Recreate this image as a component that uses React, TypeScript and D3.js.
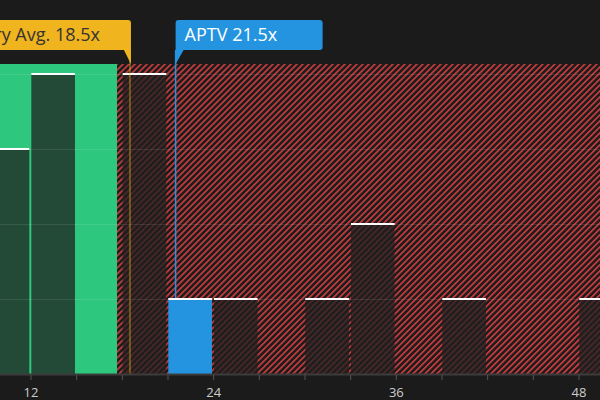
import React from "react";
import * as d3 from "d3";

// P/E histogram, peers binned every 3x
const binStarts = [9, 12, 18, 21, 24, 30, 33, 39, 48];
const binCounts = [3, 4, 4, 1, 1, 1, 2, 1, 1];
const binSize = 3;

const companyLabel = "APTV";
const companyPE = 21.5;
const industryPE = 18.5;
const fairUpper = 17.65;

const majorTicks = [12, 24, 36, 48];
const minorTicks = [9, 12, 15, 18, 21, 24, 27, 30, 33, 36, 39, 42, 45, 48];
const gridValues = [1, 2, 3, 4];

const width = 600;
const height = 400;

const BG = "#1b1b1b";
const GREEN = "#2ec77e";
const RED = "#c23b3d";
const BLUE = "#2494e0";
const YELLOW = "#f0b41e";

export default function App() {
  const x = d3.scaleLinear().domain([9.963, 49.38]).range([0, width]);
  const y = d3.scaleLinear().domain([0, 4.133]).range([374, 64]);
  const [xMin, xMax] = x.domain();
  const top = y(y.domain()[1]);
  const base = y(0);

  const bins = binStarts.map((s, i) => ({ x0: s, x1: s + binSize, n: binCounts[i] }));

  const avgX = x(industryPE);
  const coX = x(companyPE);
  const fmt = (v: number) => `${v.toFixed(1)}x`;

  return (
    <svg
      width={width}
      height={height}
      style={{ position: "absolute", left: 0, top: 0, background: BG }}
      fontFamily="'Open Sans', 'Noto Sans', sans-serif"
    >
      <defs>
        <pattern
          id="hatch"
          width={4.24}
          height={4.24}
          patternUnits="userSpaceOnUse"
          patternTransform="rotate(45)"
        >
          <rect width={4.24} height={4.24} fill={BG} />
          <rect width={1.8} height={4.24} fill={RED} />
        </pattern>
      </defs>
      <rect width={width} height={height} fill={BG} />

      {/* valuation zones */}
      <rect x={x(xMin)} y={top} width={x(fairUpper) - x(xMin)} height={base - top} fill={GREEN} />
      <rect x={x(fairUpper)} y={top} width={x(xMax) - x(fairUpper)} height={base - top} fill="url(#hatch)" />

      {/* bars */}
      {bins.map((b, i) => {
        const isCo = companyPE >= b.x0 && companyPE < b.x1;
        return (
          <rect
            key={i}
            x={x(b.x0) + 0.3}
            y={y(b.n)}
            width={x(b.x1) - x(b.x0) - 2}
            height={base - y(b.n)}
            fill={isCo ? BLUE : "rgb(32,32,32)"}
            fillOpacity={isCo ? 1 : 0.75}
          />
        );
      })}

      {/* grid */}
      {gridValues.map((g) => (
        <line key={g} x1={0} x2={width} y1={y(g) + 0.5} y2={y(g) + 0.5} stroke="#fff" strokeOpacity={0.1} />
      ))}

      {/* bar caps */}
      {bins.map((b, i) => (
        <rect
          key={i}
          x={x(b.x0) + 0.3}
          y={y(b.n) - 1}
          width={x(b.x1) - x(b.x0) - 2}
          height={2}
          fill="#fff"
        />
      ))}

      {/* reference lines */}
      <line x1={avgX} x2={avgX} y1={50} y2={base} stroke={YELLOW} strokeOpacity={0.38} strokeWidth={2} />
      <line x1={coX} x2={coX} y1={50} y2={y(1) - 1} stroke={BLUE} strokeWidth={1.5} />

      {/* industry label */}
      <path
        d={`M${avgX - 215},20 H${avgX - 2} Q${avgX + 1},20 ${avgX + 1},23 V${top} L${avgX - 6},50 H${avgX - 215} Z`}
        fill={YELLOW}
      />
      <text x={avgX - 30} y={41} textAnchor="end" fontSize={18} fill="#333">
        {`Industry Avg. ${fmt(industryPE)}`}
      </text>

      {/* company label */}
      <path
        d={`M${coX},${top} V23 Q${coX},20 ${coX + 3},20 H${coX + 144} Q${coX + 147},20 ${coX + 147},23 V47 Q${coX + 147},50 ${coX + 144},50 H${coX + 8} Z`}
        fill={BLUE}
      />
      <text x={coX + 9} y={41} fontSize={18} fill="#fff">
        {`${companyLabel} ${fmt(companyPE)}`}
      </text>

      {/* x axis */}
      <line x1={0} x2={width} y1={base + 0.5} y2={base + 0.5} stroke="#3c3c3c" strokeWidth={2} />
      {minorTicks.map((t) => (
        <line key={t} x1={x(t)} x2={x(t)} y1={base + 1} y2={base + 6} stroke="#555" />
      ))}
      {majorTicks.map((t) => (
        <text key={t} x={x(t)} y={397} textAnchor="middle" fontSize={13} fill="#ccc">
          {t}
        </text>
      ))}
    </svg>
  );
}
